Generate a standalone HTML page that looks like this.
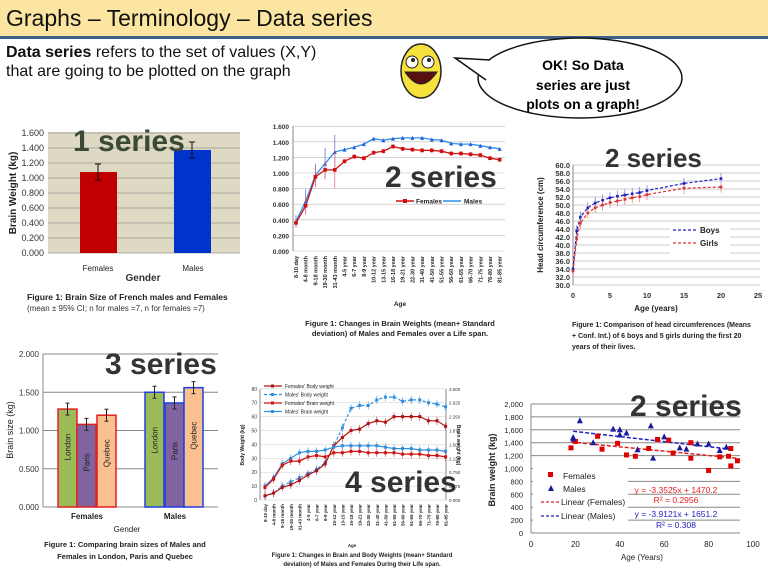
<!DOCTYPE html>
<html><head><meta charset="utf-8"><style>
html,body{margin:0;padding:0;background:#fff;}
svg{display:block;font-family:"Liberation Sans",sans-serif;}
</style></head><body>
<svg id="s" width="768" height="571" viewBox="0 0 768 571" xmlns="http://www.w3.org/2000/svg">
<rect x="0" y="0" width="768" height="36" fill="#fbe5a0"/>
<rect x="0" y="36" width="768" height="3" fill="#3f6088"/>
<text x="6" y="26" font-size="23" fill="#111">Graphs – Terminology – Data series</text>
<text x="6" y="57" font-size="16" fill="#111"><tspan font-weight="bold">Data series</tspan>  refers to the set of values (X,Y)</text>
<text x="6" y="76" font-size="16" fill="#111">that are going to be plotted on the graph</text>
<!-- smiley -->
<ellipse cx="421" cy="71" rx="20" ry="27" fill="#f6e23c" stroke="#222" stroke-width="1.5"/>
<circle cx="412" cy="62" r="6" fill="#fff" stroke="#222"/><circle cx="428" cy="62" r="6" fill="#fff" stroke="#222"/>
<circle cx="413" cy="60" r="2" fill="#222"/><circle cx="429" cy="60" r="2" fill="#222"/>
<path d="M405 72 Q421 96 437 72 Z" fill="#5a1010" stroke="#222"/>
<!-- bubble -->
<ellipse cx="580" cy="78" rx="102" ry="40" fill="#fff" stroke="#111" stroke-width="1.5"/>
<path d="M490 60 L455 58 L486 80" fill="#fff" stroke="#111" stroke-width="1.5"/>
<text x="583" y="70" font-size="14" font-weight="bold" text-anchor="middle">OK! So  Data</text>
<text x="583" y="90" font-size="14" font-weight="bold" text-anchor="middle">series are just</text>
<text x="583" y="109" font-size="14" font-weight="bold" text-anchor="middle">plots on  a graph!</text>
<g id="g"></g>
</svg>
<script>
var o='';
function L(x1,y1,x2,y2,c,w,d){o+='<line x1="'+x1+'" y1="'+y1+'" x2="'+x2+'" y2="'+y2+'" stroke="'+c+'" stroke-width="'+(w||1)+'"'+(d?' stroke-dasharray="'+d+'"':'')+'/>';}
function R(x,y,w,h,f,s,sw){o+='<rect x="'+x+'" y="'+y+'" width="'+w+'" height="'+h+'" fill="'+f+'"'+(s?' stroke="'+s+'" stroke-width="'+(sw||1)+'"':'')+'/>';}
function T(x,y,t,sz,a,c,b,rot){o+='<text x="'+x+'" y="'+y+'" font-size="'+sz+'" text-anchor="'+(a||'start')+'" fill="'+(c||'#222')+'"'+(b?' font-weight="bold"':'')+(rot?' transform="rotate('+rot+' '+x+' '+y+')"':'')+'>'+t+'</text>';}
function P(pts,c,w,d){o+='<polyline fill="none" stroke="'+c+'" stroke-width="'+(w||1)+'"'+(d?' stroke-dasharray="'+d+'"':'')+' points="'+pts.map(p=>p[0].toFixed(1)+','+p[1].toFixed(1)).join(' ')+'"/>';}
// chart1
R(48,132,192,121,'#ddd9c3');
for(var i=0;i<=8;i++){var y=253-i*15;L(48,y,240,y,'#999',0.7);T(44,y+3,(i*0.2).toFixed(3),9,'end','#333');}
R(80,172,37,81,'#c00000');R(174,150,37,103,'#0033cc');
L(98,164,98,180,'#111');L(95,164,101,164,'#111');L(95,180,101,180,'#111');
L(192,142,192,158,'#111');L(189,142,195,142,'#111');L(189,158,195,158,'#111');
T(16,193,'Brain Weight (kg)',10,'middle','#222',1,-90);
T(98,271,'Females',8,'middle');T(193,271,'Males',8,'middle');T(143,281,'Gender',10,'middle','#333',1);
T(73,151,'1 series',30,'start','#3b4a35',1);
T(27,300,'Figure 1: Brain  Size of French males and Females',8.5,'start','#222',1);
T(27,311,'(mean ± 95%  CI;  n for males  =7,  n for females  =7)',8,'start','#333');
// chart2
for(var i=0;i<=8;i++){var y=251-i*15.6;L(293,y,505,y,'#bbb',0.6);T(289,y+3,(i*0.2).toFixed(3),6.5,'end','#333',1);}
L(293,126,293,251,'#888');
var labs2=['8-10 day','4-8 month','9-18 month','19-30 month','31-43 month','4-5 year','6-7 year','8-9 year','10-12 year','13-15 year','16-18 year','19-21 year','22-30 year','31-40 year','41-50 year','51-55 year','56-60 year','61-65 year','66-70 year','71-75 year','76-80 year','81-85 year'];
var m2=[0.38,0.64,0.97,1.12,1.27,1.30,1.33,1.37,1.44,1.42,1.44,1.45,1.45,1.45,1.43,1.42,1.38,1.37,1.37,1.35,1.33,1.31];
var f2=[0.36,0.58,0.95,1.04,1.04,1.15,1.21,1.19,1.26,1.28,1.34,1.31,1.30,1.29,1.29,1.28,1.25,1.25,1.24,1.23,1.19,1.17];
var X2=i=>296+i*9.7,Y2=v=>251-v*78;
labs2.forEach((l,i)=>T(X2(i)+2,256,l,5.5,'end','#222',1,-90));
P(m2.map((v,i)=>[X2(i),Y2(v)]),'#2f8fe0',1.3);P(f2.map((v,i)=>[X2(i),Y2(v)]),'#d01010',1.3);
m2.forEach((v,i)=>{var e=i<5?[0.08,0.15,0.15,0.2,0.22][i]:0.02;L(X2(i),Y2(v+e),X2(i),Y2(v-e),'#6060d0',0.7);o+='<path d="M'+(X2(i)-2)+' '+(Y2(v)+2)+'h4l-2 -4z" fill="#2060e0"/>';});
f2.forEach((v,i)=>{var e=i<5?[0.06,0.12,0.12,0.12,0.24][i]:0.03;L(X2(i),Y2(v+e),X2(i),Y2(v-e),'#e06060',0.7);R(X2(i)-1.8,Y2(v)-1.8,3.6,3.6,'#d01010');});
L(396,201,414,201,'#d01010',1.5);R(403,199,4,4,'#d01010');T(416,203.5,'Females',6.5,'start','#222',1);
L(443,201,461,201,'#2f8fe0',1.5);T(464,203.5,'Males',6.5,'start','#222',1);
T(385,187,'2 series',30,'start','#333',1);
T(400,306,'Age',6.5,'middle','#222',1);
T(400,326,'Figure 1: Changes in Brain Weights (mean+ Standard',7.5,'middle','#222',1);
T(400,336,'deviation) of Males and Females over a Life span.',7.5,'middle','#222',1);
// chart3
var X3=a=>573+a*7.4,Y3=v=>285-(v-30)*4;
for(var v=30;v<=60;v+=2){L(573,Y3(v),760,Y3(v),'#999',0.6);T(570,Y3(v)+3,v.toFixed(1),7.5,'end','#333',1);}
L(573,165,573,285,'#888');
for(var a=0;a<=25;a+=5)T(X3(a),298,a,7.5,'middle','#333',1);
var ag=[0,0.5,1,2,3,4,5,6,7,8,9,10,15,20],bo=[34,43.5,47,49.3,50.5,51.2,51.8,52.2,52.5,52.8,53.1,53.6,55.4,56.6],gi=[33.5,41.5,45.5,48,49.3,50,50.6,51,51.4,51.8,52.1,52.6,54.2,54.5];
ag.forEach((a,i)=>{L(X3(a),Y3(bo[i]+1.4),X3(a),Y3(bo[i]-1),'#6060d0',0.6);L(X3(a),Y3(gi[i]+1),X3(a),Y3(gi[i]-1.4),'#e06060',0.6);});
P(ag.map((a,i)=>[X3(a),Y3(bo[i])]),'#2020c0',1.2,'3,2');P(ag.map((a,i)=>[X3(a),Y3(gi[i])]),'#e03030',1.2,'3,2');
ag.forEach((a,i)=>{R(X3(a)-1.3,Y3(bo[i])-1.3,2.6,2.6,'#2020c0');R(X3(a)-1.3,Y3(gi[i])-1.3,2.6,2.6,'#e03030');});
R(670,222,60,32,'#fff');
L(673,230,697,230,'#2020c0',1.2,'3,2');T(700,233,'Boys',8,'start','#222',1);
L(673,243,697,243,'#e03030',1.2,'3,2');T(700,246,'Girls',8,'start','#222',1);
T(543,225,'Head circumference (cm)',8,'middle','#222',1,-90);
T(656,311,'Age (years)',8,'middle','#222',1);
T(572,327,'Figure 1: Comparison of head circumferences (Means',7,'start','#222',1);
T(572,338,'+ Conf. Int.) of 6 boys and 5 girls during the first 20',7,'start','#222',1);
T(572,349,'years of their lives.',7,'start','#222',1);
T(605,167,'2 series',26,'start','#333',1);
// chart4
var Y4=v=>507-v*76.5;
for(var v=0;v<=2;v+=0.5){L(43,Y4(v),218,Y4(v),'#888',1);T(39,Y4(v)+3,v.toFixed(3),8,'end','#333');}
L(43,354,43,507,'#888');
[[58,1.28,'#9bbb59','#e02020','London'],[77,1.08,'#8064a2','#e02020','Paris'],[97,1.2,'#fac090','#e02020','Quebec'],[145,1.5,'#9bbb59','#2040e0','London'],[165,1.36,'#8064a2','#2040e0','Paris'],[184,1.56,'#fac090','#2040e0','Quebec']].forEach(b=>{
R(b[0],Y4(b[1]),19,507-Y4(b[1]),b[2],b[3],1.5);var cx=b[0]+9.5;
L(cx,Y4(b[1])-6,cx,Y4(b[1])+6,'#222');L(cx-2,Y4(b[1])-6,cx+2,Y4(b[1])-6,'#222');L(cx-2,Y4(b[1])+6,cx+2,Y4(b[1])+6,'#222');
T(cx+3,Y4(b[1])+ (b[1]>1.3?48:38),b[4],8,'middle','#222',0,-90);});
T(13,430,'Brain size (kg)',9,'middle','#222',0,-90);
T(87,519,'Females',8,'middle','#222',1);T(175,519,'Males',8,'middle','#222',1);T(127,532,'Gender',8,'middle','#222');
T(125,547,'Figure 1: Comparing  brain sizes of Males and',7.5,'middle','#222',1);
T(125,559,'Females in London,  Paris and Quebec',7.5,'middle','#222',1);
T(105,374,'3 series',30,'start','#333',1);
// chart5
var X5=i=>265+i*8.6,Y5=v=>500-v*1.39;
for(var v=0;v<=80;v+=10){L(260,Y5(v),446,Y5(v),'#ccc',0.5);T(257,Y5(v)+2,v,5,'end','#333');T(449,Y5(v)+2,(v/80*3).toFixed(3),4.5,'start','#333');}
L(260,389,260,500,'#888');L(446,389,446,500,'#888');
labs2.forEach((l,i)=>T(X5(i)+2,504,l,4.5,'end','#222',1,-90));
var fb=[3,5,9,11,14,18,21,26,39,45,50,51,55,57,56,60,60,60,60,57,57,53],mb=[3,5,10,13,16,19,22,27,39,52,66,68,68,72,74,74,71,72,72,70,69,67],mbr=[10,16,26,30,34,35,35,36,38,39,39,39,39,39,38,37,37,37,36,36,36,35],fbr=[9,15,25,28,28,31,32,31,34,34,35,35,34,34,34,34,33,33,33,32,32,31];
[[mb,'#2f8fe0','3,2'],[fb,'#b01010',0],[mbr,'#2f8fe0',0],[fbr,'#d01010',0]].forEach(s=>{P(s[0].map((v,i)=>[X5(i),Y5(v)]),s[1],1.2,s[2]);s[0].forEach((v,i)=>{L(X5(i),Y5(v+3),X5(i),Y5(v-3),s[1],0.5);R(X5(i)-1.5,Y5(v)-1.5,3,3,s[1]);});});
[['Females\' Body weight','#b01010',0],['Males\' Body weight','#2f8fe0','3,2'],['Females\' Brain weight','#d01010',0],['Males\' Brain weight','#2f8fe0',0]].forEach((l,i)=>{var y=386+i*8.5;L(264,y,282,y,l[1],1.2,l[2]);R(271,y-1.5,3,3,l[1]);T(285,y+2,l[0],5,'start','#222');});
T(244,445,'Body Weight (kg)',5,'middle','#222',1,-90);T(457,445,'Brain weight (kg)',5,'middle','#222',1,90);
T(352,547,'Age',4.5,'middle','#222',1);
T(362,557,'Figure 1: Changes in Brain and Body  Weights (mean+ Standard',6,'middle','#222',1);
T(362,566,'deviation) of Males and Females During their Life span.',6,'middle','#222',1);
T(345,492,'4 series',30,'start','#333',1);
// chart6
var X6=a=>531+a*2.22,Y6=v=>533-v*0.0645;
for(var v=0;v<=2000;v+=200){L(531,Y6(v),740,Y6(v),'#888',1);T(523,Y6(v)+3,v.toLocaleString('en-US'),7.5,'end','#222');}
L(531,404,531,533,'#888');
for(var a=0;a<=100;a+=20)T(X6(a),547,a,8,'middle','#222');
T(495,470,'Brain weight (kg)',9,'middle','#222',1,-90);
T(642,560,'Age (Years)',8,'middle','#222');
var fp=[[18,1320],[20,1420],[30,1500],[32,1300],[39,1390],[43,1210],[47,1190],[53,1310],[57,1450],[62,1440],[64,1240],[72,1400],[72,1160],[80,970],[85,1180],[89,1190],[90,1310],[90,1040],[93,1120]];
var mp=[[19,1480],[19,1460],[22,1740],[28,1400],[37,1610],[40,1600],[40,1520],[43,1550],[48,1290],[54,1660],[55,1160],[60,1490],[67,1320],[70,1300],[75,1380],[80,1380],[85,1280],[88,1330]];
R(533,465,95,60,'#fff');
L(X6(18),Y6(1470.2-3.3525*18),X6(93),Y6(1470.2-3.3525*93),'#e02020',1.5,'4,2');
L(X6(19),Y6(1651.2-3.9121*19),X6(88),Y6(1651.2-3.9121*88),'#2020c0',1.5,'4,2');
fp.forEach(p=>R(X6(p[0])-2.5,Y6(p[1])-2.5,5,5,'#e00000'));
mp.forEach(p=>o+='<path d="M'+(X6(p[0])-3)+' '+(Y6(p[1])+2.5)+'h6l-3 -6z" fill="#1a1aa0"/>');
R(548,472,5,5,'#e00000');T(563,479,'Females',8.5,'start','#222');
o+='<path d="M548 491h6l-3 -6z" fill="#1a1aa0"/>';T(563,492,'Males',8.5,'start','#222');
L(541,502,559,502,'#e02020',1.2,'3,2');T(561,505,'Linear (Females)',8.5,'start','#222');
L(541,516,559,516,'#2020c0',1.2,'3,2');T(561,519,'Linear (Males)',8.5,'start','#222');
T(676,493,'y = -3.3525x + 1470.2',8.5,'middle','#e02020');T(676,503,'R² = 0.2956',8.5,'middle','#e02020');
T(676,517,'y = -3.9121x + 1651.2',8.5,'middle','#2020c0');T(676,528,'R² = 0.308',8.5,'middle','#2020c0');
T(630,416,'2 series',30,'start','#333',1);
document.getElementById('g').innerHTML=o;
</script>
</body></html>
